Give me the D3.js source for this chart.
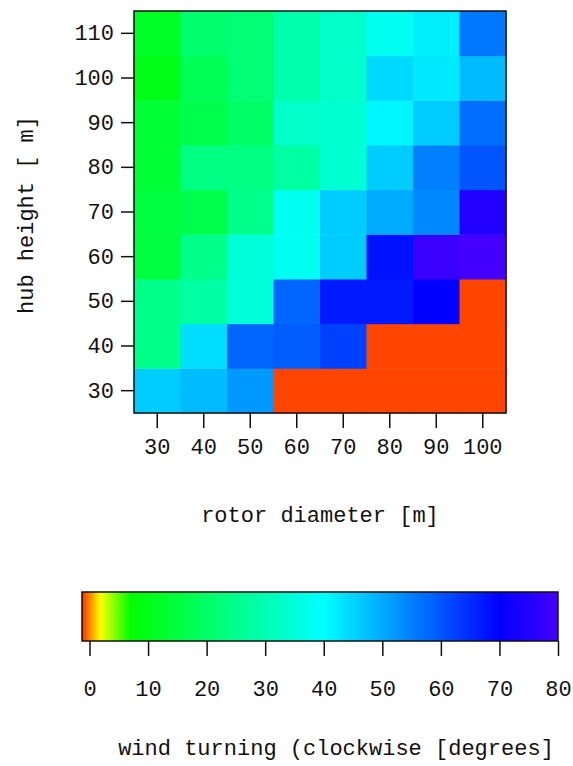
<!DOCTYPE html>
<html>
<head>
<meta charset="utf-8">
<script src="https://cdn.jsdelivr.net/npm/d3@7"></script>
<style>
  body { margin: 0; background: #fff; }
  svg text { font-family: "Liberation Mono", "Courier New", monospace; fill: #111; }
</style>
</head>
<body>
<div id="chart"></div>
<script>
// rotor diameter (columns) and hub height (rows), both in m
var rotorDiameter = [30, 40, 50, 60, 70, 80, 90, 100];
var hubHeight = [30, 40, 50, 60, 70, 80, 90, 100, 110];

// wind turning in degrees, one row per hub height (30 .. 110)
// -1 = below range (shown red)
var turning30  = [46, 48, 52, -1, -1, -1, -1, -1];
var turning40  = [25, 44, 58, 59, 62.5, -1, -1, -1];
var turning50  = [25, 28, 35, 58, 67, 67, 70, -1];
var turning60  = [15, 25, 35, 38, 46, 68, 78.5, 80];
var turning70  = [15, 17, 25, 38, 46, 50, 54, 75];
var turning80  = [14, 24, 24, 28, 34, 46, 55, 60];
var turning90  = [14, 17, 20, 33, 34, 41, 46, 57];
var turning100 = [10, 18, 22, 29, 33, 44.5, 42.5, 48];
var turning110 = [12, 21, 22, 29, 33, 38, 42, 56];
var turningRows = [turning30, turning40, turning50, turning60, turning70,
                   turning80, turning90, turning100, turning110];

var barTicks = [0, 10, 20, 30, 40, 50, 60, 70, 80];

var W = 573, H = 766;
var plot = {left: 134, right: 506, top: 11, bottom: 413};
var bar = {left: 82, right: 558, top: 592, bottom: 641};

var svg = d3.select("#chart").append("svg").attr("width", W).attr("height", H);

var x = d3.scaleBand().domain(rotorDiameter).range([plot.left, plot.right]);
var y = d3.scaleBand().domain(hubHeight).range([plot.bottom, plot.top]);

var color = d3.scaleLinear()
    .domain([-1.25, 1.8, 7, 40, 70, 80])
    .range(["#ff3000", "#ffff00", "#00ff00", "#00ffff", "#0000ff", "#4400ff"])
    .clamp(true);

var cells = [];
turningRows.forEach(function(row, i) {
    row.forEach(function(v, j) {
        cells.push({h: hubHeight[i], d: rotorDiameter[j], v: v});
    });
});

svg.append("g").selectAll("rect").data(cells).enter().append("rect")
    .attr("x", function(d) { return x(d.d); })
    .attr("y", function(d) { return y(d.h); })
    .attr("width", x.bandwidth() + 0.5)
    .attr("height", y.bandwidth() + 0.5)
    .attr("fill", function(d) { return d.v < 0 ? "#ff4500" : color(d.v); });

svg.append("rect")
    .attr("x", plot.left).attr("y", plot.top)
    .attr("width", plot.right - plot.left).attr("height", plot.bottom - plot.top)
    .attr("fill", "none").attr("stroke", "#111").attr("stroke-width", 1.5);

var xAxis = svg.append("g").attr("transform", "translate(0," + plot.bottom + ")")
    .call(d3.axisBottom(x).tickSize(15).tickSizeOuter(0).tickPadding(10));
var yAxis = svg.append("g").attr("transform", "translate(" + plot.left + ",0)")
    .call(d3.axisLeft(y).tickSize(13).tickSizeOuter(0).tickPadding(7));

[xAxis, yAxis].forEach(function(a) {
    a.select(".domain").remove();
    a.selectAll("line").attr("stroke", "#111").attr("stroke-width", 1.5);
    a.selectAll("text").style("font-size", "22px").attr("fill", "#111");
});

svg.append("text")
    .attr("x", (plot.left + plot.right) / 2).attr("y", 522)
    .attr("text-anchor", "middle").style("font-size", "22px")
    .text("rotor diameter [m]");

svg.append("text")
    .attr("transform", "translate(33," + 215 + ") rotate(-90)")
    .attr("text-anchor", "middle").style("font-size", "22px")
    .text("hub height [ m]");

// colour bar
var bx = d3.scaleLinear().domain([0, 80]).range([89.5, bar.right]);
var defs = svg.append("defs");
var grad = defs.append("linearGradient").attr("id", "cbar")
    .attr("x1", 0).attr("x2", 1).attr("y1", 0).attr("y2", 0);
var lo = bx.invert(bar.left), hi = 80;
d3.range(0, 101).forEach(function(k) {
    var v = lo + (hi - lo) * k / 100;
    grad.append("stop").attr("offset", k + "%").attr("stop-color", color(v));
});

svg.append("rect")
    .attr("x", bar.left).attr("y", bar.top)
    .attr("width", bar.right - bar.left).attr("height", bar.bottom - bar.top)
    .attr("fill", "url(#cbar)").attr("stroke", "#111").attr("stroke-width", 1.5);

var bAxis = svg.append("g").attr("transform", "translate(0," + bar.bottom + ")")
    .call(d3.axisBottom(bx).tickValues(barTicks).tickSize(15).tickSizeOuter(0).tickPadding(24));
bAxis.select(".domain").remove();
bAxis.selectAll("line").attr("stroke", "#111").attr("stroke-width", 1.5);
bAxis.selectAll("text").style("font-size", "22px").attr("fill", "#111");

svg.append("text")
    .attr("x", 336).attr("y", 755)
    .attr("text-anchor", "middle").style("font-size", "22px")
    .text("wind turning (clockwise [degrees]");
</script>
</body>
</html>
